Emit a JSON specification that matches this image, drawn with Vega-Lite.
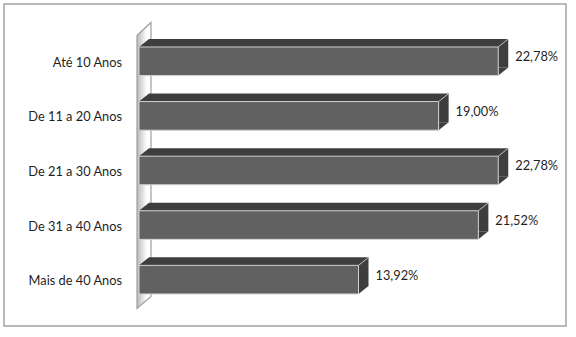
{
  "$schema": "https://vega.github.io/schema/vega-lite/v6.json",
  "width": 562,
  "height": 322,
  "padding": {"left": 4, "top": 4, "right": 10, "bottom": 11},
  "autosize": {"type": "none"},
  "background": "#ffffff",
  "config": {
    "view": {"stroke": "#a3a3a3", "strokeWidth": 1.5},
    "locale": {
      "number": {"decimal": ",", "thousands": ".", "grouping": [3], "currency": ["R$", ""]}
    },
    "text": {"font": "Lato", "fontSize": 12.8, "color": "#1f1f1f"}
  },
  "data": {
    "values": [
      {"faixa": "Até 10 Anos", "share": 0.2278},
      {"faixa": "De 11 a 20 Anos", "share": 0.19},
      {"faixa": "De 21 a 30 Anos", "share": 0.2278},
      {"faixa": "De 31 a 40 Anos", "share": 0.2152},
      {"faixa": "Mais de 40 Anos", "share": 0.1392}
    ]
  },
  "encoding": {
    "y": {
      "field": "faixa",
      "type": "nominal",
      "sort": ["Até 10 Anos", "De 11 a 20 Anos", "De 21 a 30 Anos", "De 31 a 40 Anos", "Mais de 40 Anos"],
      "axis": null,
      "scale": {"paddingInner": 0.476, "paddingOuter": 0.687, "align": 0.573}
    },
    "x": {
      "field": "share",
      "type": "quantitative",
      "axis": null,
      "scale": {"domain": [-0.0856, 0.27077], "nice": false, "zero": false}
    }
  },
  "layer": [
    {
      "transform": [{"filter": "datum.faixa == 'De 21 a 30 Anos'"}],
      "mark": {
        "type": "point",
        "shape": "M-2,-135 L12,-148 L12,126 L-2,138 Z",
        "size": 4,
        "filled": true,
        "opacity": 1,
        "fill": {
          "gradient": "linear", "x1": 0, "y1": 0, "x2": 1, "y2": 0,
          "stops": [{"offset": 0, "color": "#b8b8b8"}, {"offset": 0.7, "color": "#ffffff"}]
        },
        "stroke": "#9f9f9f",
        "strokeWidth": 1.2
      },
      "encoding": {"x": {"datum": 0, "type": "quantitative"}}
    },
    {
      "mark": {"type": "bar", "fill": "#3e3e3e", "xOffset": 10, "x2Offset": 10, "yOffset": -8, "y2Offset": -8}
    },
    {
      "mark": {"type": "point", "shape": "M0,-14.3 L10,-22.3 L10,-14.3 Z", "size": 4, "filled": true, "opacity": 1, "fill": "#3e3e3e", "strokeWidth": 0},
      "encoding": {"x": {"datum": 0, "type": "quantitative"}}
    },
    {
      "mark": {"type": "point", "shape": "M0,14.3 L10,6.3 L0,6.3 Z", "size": 4, "filled": true, "opacity": 1, "fill": "#3e3e3e", "strokeWidth": 0}
    },
    {
      "mark": {"type": "point", "shape": "M0,-14.3 L10,-22.3", "size": 4, "filled": false, "opacity": 1, "stroke": "#c4c4c4", "strokeWidth": 1}
    },
    {
      "mark": {"type": "bar", "fill": "#616161", "stroke": "#d2d2d2", "strokeWidth": 1}
    },
    {
      "mark": {"type": "text", "align": "left", "baseline": "middle", "dx": 17, "dy": -4},
      "encoding": {
        "text": {"field": "share", "type": "quantitative", "format": ".2%"}
      }
    },
    {
      "mark": {"type": "text", "align": "right", "baseline": "middle", "dx": -17, "dy": 1.5},
      "encoding": {
        "x": {"datum": 0, "type": "quantitative"},
        "text": {"field": "faixa", "type": "nominal"}
      }
    }
  ]
}
